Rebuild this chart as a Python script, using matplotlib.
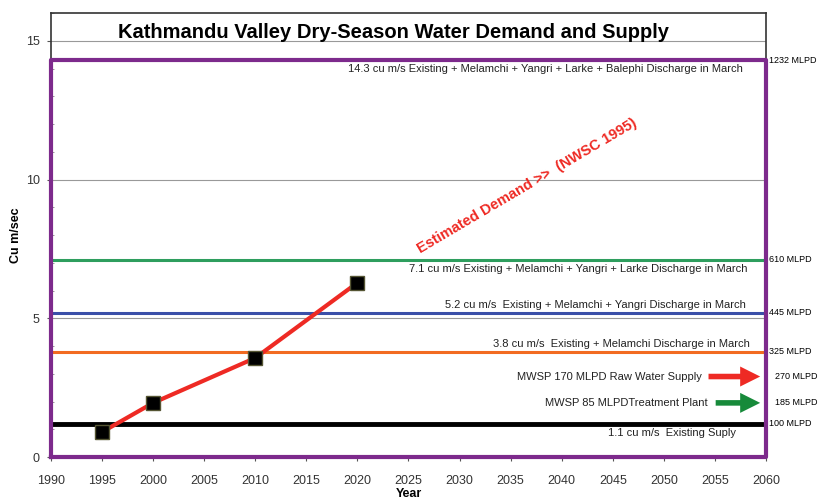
import matplotlib.pyplot as plt
from matplotlib.ticker import MultipleLocator

plt.rcParams['font.family'] = ['Liberation Sans', 'DejaVu Sans']

# demand estimate (NWSC 1995)
years = [1995, 2000, 2010, 2020]
demand = [0.9, 1.95, 3.57, 6.28]

# supply levels, cu m/s
supply_levels = [14.3, 7.1, 5.2, 3.8, 1.2]
supply_colors = ['#7D2A8C', '#2E9E5E', '#3A4FA8', '#F26B21', '#000000']
supply_text = ['14.3 cu m/s Existing + Melamchi + Yangri + Larke + Balephi Discharge in March',
               '7.1 cu m/s Existing + Melamchi + Yangri + Larke Discharge in March',
               '5.2 cu m/s  Existing + Melamchi + Yangri Discharge in March',
               '3.8 cu m/s  Existing + Melamchi Discharge in March',
               '1.1 cu m/s  Existing Suply']
mlpd_labels = ['1232 MLPD', '610 MLPD', '445 MLPD', '325 MLPD', '100 MLPD']

# MWSP arrows
mwsp_levels = [2.9, 1.95]
mwsp_text = ['MWSP 170 MLPD Raw Water Supply', 'MWSP 85 MLPDTreatment Plant']
mwsp_mlpd = ['270 MLPD', '185 MLPD']
mwsp_colors = ['#EE2A24', '#178A3A']

fig = plt.figure(figsize=(8.25, 5), dpi=100)
ax = fig.add_axes([0.0618, 0.086, 0.8667, 0.888])
ax.set_xlim(1990, 2060)
ax.set_ylim(0, 16)

ax.xaxis.set_major_locator(MultipleLocator(5))
ax.yaxis.set_major_locator(MultipleLocator(5))
ax.yaxis.set_minor_locator(MultipleLocator(1))
ax.tick_params(axis='both', labelsize=9, length=3, color='#555555', labelcolor='#333333')
ax.tick_params(axis='x', pad=10)
ax.tick_params(axis='y', pad=5)
ax.tick_params(axis='y', which='minor', direction='in', length=2, color='#888888')
ax.grid(axis='y', color='#999999', lw=0.8)
ax.set_axisbelow(True)
for s in ax.spines.values():
    s.set_color('#333333')
    s.set_linewidth(1.2)

# purple box for the top level
top = supply_levels[0]
ax.plot([1990, 1990, 2060, 2060, 1990], [0, top, top, 0, 0], color=supply_colors[0], lw=3,
        clip_on=False, zorder=3)

lws = [3, 2.2, 2.2, 2.2, 3.5]
for lvl, c, lw in zip(supply_levels[1:], supply_colors[1:], lws[1:]):
    ax.plot([1990, 2060], [lvl, lvl], color=c, lw=lw, zorder=2)

# descriptions
text_x = [2057.7, 2058.2, 2058.0, 2058.4, 2057.1]
text_dy = [-0.3, -0.32, 0.27, 0.27, -0.35]
for lvl, t, x, dy in zip(supply_levels, supply_text, text_x, text_dy):
    ax.text(x, lvl + dy, t, ha='right', va='center', fontsize=8, color='#222222')

for lvl, t in zip(supply_levels, mlpd_labels):
    ax.text(2060.3, lvl, t, ha='left', va='center', fontsize=6.5, clip_on=False)

for lvl, t, m, c in zip(mwsp_levels, mwsp_text, mwsp_mlpd, mwsp_colors):
    ax.annotate('', xy=(2059.7, lvl), xytext=(2054.1 if c != '#178A3A' else 2054.8, lvl),
                arrowprops=dict(arrowstyle='simple,head_length=0.9,head_width=0.9,tail_width=0.25',
                                mutation_scale=16, color=c, lw=0))
    ax.text(2053.7 if c != '#178A3A' else 2054.3, lvl, t, ha='right', va='center', fontsize=8,
            color='#222222')
    ax.text(2060.9, lvl, m, ha='left', va='center', fontsize=6.5, clip_on=False)

# demand
ax.plot(years, demand, color='#EE2A24', lw=3, zorder=4)
ax.plot(years, demand, ls='none', marker='s', ms=10, color='black', mec='#555533', zorder=5)

ax.text(2036.6, 9.75, 'Estimated Demand >>  (NWSC 1995)', color='#EE2A24', fontsize=10.5,
        fontweight='bold', rotation=30.5, ha='center', va='center', rotation_mode='anchor')

ax.text(2023.5, 15.3, 'Kathmandu Valley Dry-Season Water Demand and Supply', fontsize=14.5,
        fontweight='bold', ha='center', va='center')

ax.set_ylabel('Cu m/sec', fontsize=9, fontweight='bold', labelpad=3)
ax.set_xlabel('Year', fontsize=9, fontweight='bold', labelpad=1)

fig.savefig('out.png', dpi=100)
